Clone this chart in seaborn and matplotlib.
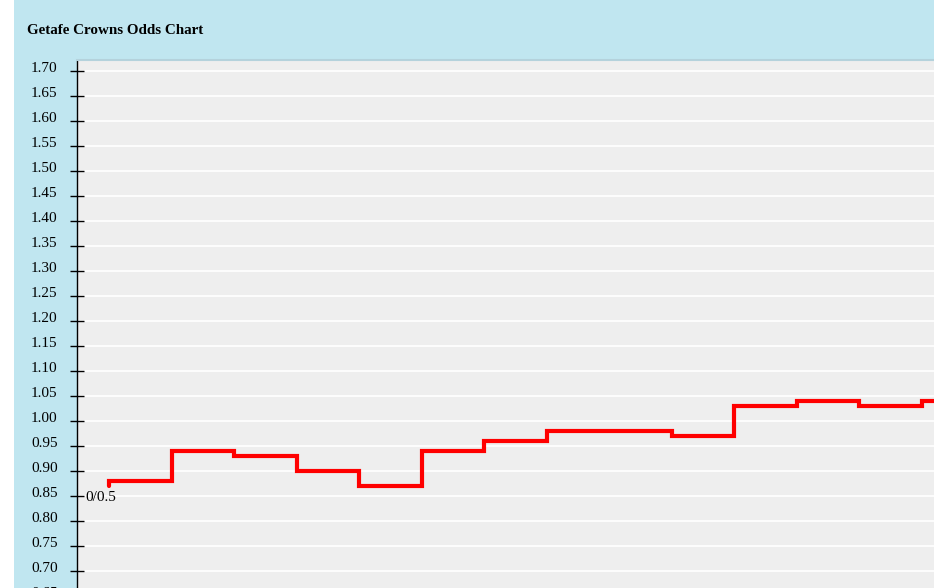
import matplotlib
matplotlib.use("Agg")
import matplotlib.pyplot as plt
import matplotlib.transforms as mtransforms
import seaborn as sns
import pandas as pd

# Odds movement for the handicap line (step chart)
steps = list(range(15))
odds = [0.87, 0.88, 0.94, 0.93, 0.90, 0.87, 0.94, 0.96, 0.98, 0.98,
        0.97, 1.03, 1.04, 1.03, 1.04]
handicap_label = "0/0.5"
title = "Getafe Crowns Odds Chart"
y_ticks = [round(0.60 + 0.05 * k, 2) for k in range(23)]

df = pd.DataFrame({"step": steps, "odds": odds})

sns.set_theme(style="whitegrid", rc={
    "axes.facecolor": "#eeeeee",
    "grid.color": "white",
    "grid.linewidth": 1.2,
})
plt.rcParams["font.family"] = ["Liberation Serif", "DejaVu Serif"]

W, H = 934, 588
fig = plt.figure(figsize=(W / 100, H / 100), dpi=100, facecolor="white")

# blue panel behind everything
bg = fig.add_axes([14 / W, 0, 1 - 14 / W, 1])
bg.set_facecolor("#c0e6f0")
bg.set_xticks([])
bg.set_yticks([])
for s in bg.spines.values():
    s.set_visible(False)
bg.set_zorder(0)

fig.text(27 / W, 1 - 30 / H, title, fontsize=10.8, fontweight="bold",
         va="center", ha="left", color="black")

# plot area runs past the bottom edge, like the cropped original
y_lo, y_hi = 0.60, 1.722
px_per_unit = 500
ax_h = (y_hi - y_lo) * px_per_unit
ax_bottom = H - 60 - ax_h
ax = fig.add_axes([77 / W, ax_bottom / H, (W - 77) / W, ax_h / H])
ax.set_zorder(1)

sns.lineplot(data=df, x="step", y="odds", ax=ax, color="#ff0000",
             linewidth=3, drawstyle="steps-pre", sort=False,
             solid_joinstyle="miter")

ax.set_yticks(y_ticks)
ax.set_yticklabels([f"{v:.2f}" for v in y_ticks], fontsize=11)
ax.set_xticks([])
ax.set_xlim(-0.512, 13.2)
ax.set_ylim(y_lo, y_hi)
ax.grid(axis="x", visible=False)
ax.set_xlabel("")
ax.set_ylabel("")
ax.tick_params(axis="y", direction="inout", length=10, width=1,
               color="black", left=True, pad=9, labelcolor="black")

# labels sit a few pixels above their ticks
shift = mtransforms.ScaledTranslation(0, 4 / 100, fig.dpi_scale_trans)
for lab in ax.get_yticklabels():
    lab.set_transform(lab.get_transform() + shift)

for side in ["right", "bottom"]:
    ax.spines[side].set_visible(False)
ax.spines["left"].set_color("black")
ax.spines["left"].set_linewidth(1)
ax.spines["top"].set_color("#b4d2dc")
ax.spines["top"].set_linewidth(1.5)

ax.annotate(handicap_label, xy=(steps[0], odds[0]), xytext=(-8, -12),
            textcoords="offset pixels", ha="center", va="center",
            fontsize=11, color="black")

fig.savefig("out.png", dpi=100)
